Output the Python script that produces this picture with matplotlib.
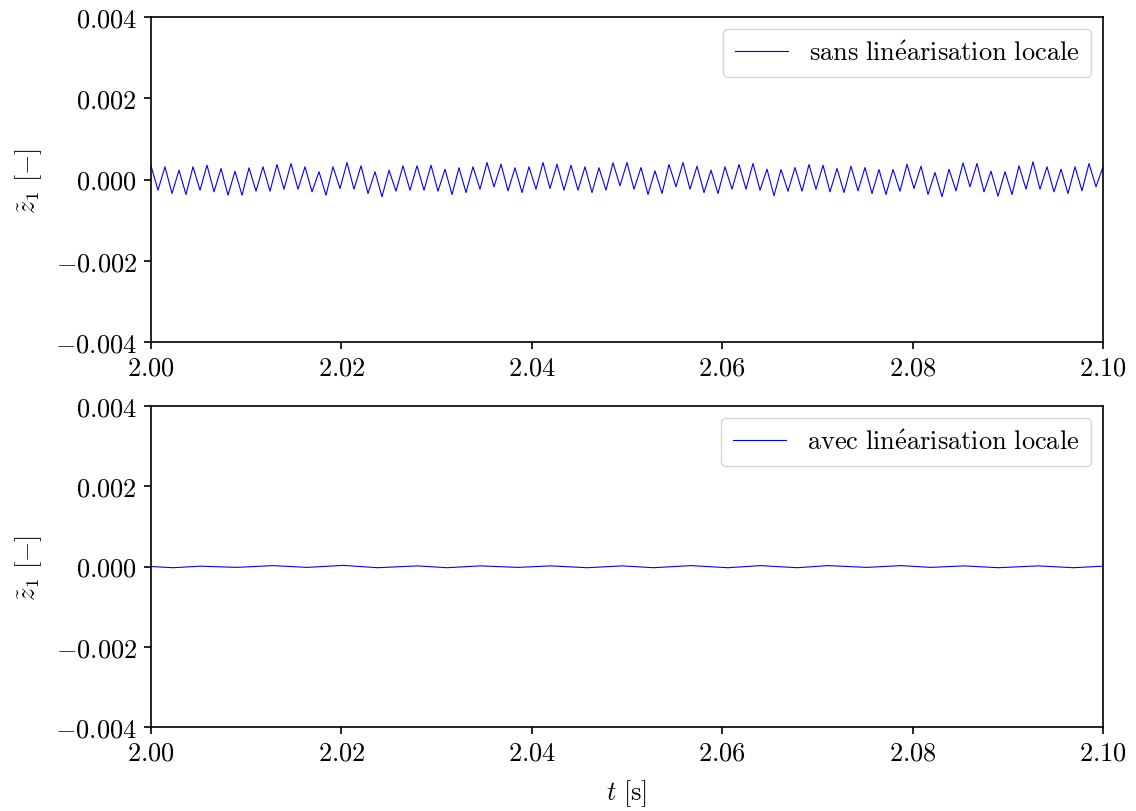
import numpy as np
import matplotlib
matplotlib.use("Agg")
import matplotlib.pyplot as plt
from matplotlib.ticker import FixedLocator, FuncFormatter

plt.rcParams['mathtext.fontset'] = 'cm'
plt.rcParams['font.family'] = ['cmr10', 'DejaVu Serif']
plt.rcParams['axes.formatter.use_mathtext'] = True

# ---- data (values in units of 1e-4) ----
z1_sans_e4 = [
    3.37, -2.63, 3.13, -3.45, 2.29, -3.69, 3.13, -2.63, 3.52, -3.03,
    2.71, -3.86, 2.04, -3.86, 2.88, -2.88, 3.13, -2.88, 3.69, -2.39,
    3.94, -2.39, 3.13, -3.03, 1.90, -3.86, 3.13, -2.22, 4.18, -2.39,
    3.37, -3.45, 1.90, -4.26,
    2.29, -2.88, 3.37, -2.63, 3.37, -2.63, 3.52, -2.88, 2.54, -3.69,
    2.88, -3.20, 3.13, -2.39, 4.18, -1.80, 3.77, -2.78, 2.88, -3.20,
    3.13, -2.39, 4.18, -2.22, 3.77, -2.63, 3.52, -2.63, 3.13, -3.20,
    2.88, -2.63, 4.11, -1.55, 4.18,
    -2.39, 2.95, -3.69, 2.14, -3.45, 3.69, -1.80, 4.18, -2.39, 3.27,
    -3.20, 2.29, -3.45, 3.13, -2.39, 3.69, -2.39, 3.94, -2.63, 2.54,
    -4.01, 2.46, -2.88, 2.95, -2.88, 3.69, -2.39, 3.52, -3.03, 2.71,
    -3.20, 3.27, -2.78, 2.95,
    -3.45, 2.46, -3.69, 2.46, -2.88, 3.77, -2.22, 3.27, -3.69, 1.72,
    -4.26, 2.54, -2.78, 4.11, -1.80, 3.94, -3.03, 2.04, -4.11, 1.90,
    -3.69, 3.37, -2.39, 4.36, -2.39, 3.13, -3.03, 2.54, -3.45, 3.13,
    -2.78, 3.94, -1.80, 3.13,
]

t_avec = [
    2.0000, 2.0023, 2.0052, 2.0090, 2.0128, 2.0164, 2.0202, 2.0238,
    2.0280, 2.0311, 2.0346, 2.0385, 2.0420, 2.0458, 2.0495, 2.0528,
    2.0567, 2.0606, 2.0640, 2.0679, 2.0711, 2.0752, 2.0788, 2.0819,
    2.0854, 2.0890, 2.0932, 2.0969, 2.1000,
]
z1_avec_e4 = [
    0.00, -0.30, 0.08, -0.22, 0.22, -0.22, 0.28, -0.30,
    0.15, -0.30, 0.15, -0.22, 0.15, -0.30, 0.15, -0.30,
    0.22, -0.30, 0.22, -0.30, 0.22, -0.22, 0.22, -0.22,
    0.15, -0.30, 0.15, -0.30, 0.08,
]

t_start, t_end = 2.00, 2.10
x_ticks = [2.00, 2.02, 2.04, 2.06, 2.08, 2.10]
y_ticks = [-0.004, -0.002, 0.000, 0.002, 0.004]
labels = [r'$\mathrm{sans\ lin\acute{e}arisation\ locale}$',
          r'$\mathrm{avec\ lin\acute{e}arisation\ locale}$']

z_sans = np.array(z1_sans_e4) * 1e-4
t_sans = np.linspace(t_start, t_end, len(z_sans))
z_avec = np.array(z1_avec_e4) * 1e-4

fig = plt.figure(figsize=(11.36, 8.12), dpi=100)
W, H = 1136, 812
def ax_rect(l, t, r, b):
    return [l / W, 1 - b / H, (r - l) / W, (b - t) / H]

ax1 = fig.add_axes(ax_rect(151, 18, 1103, 343))
ax2 = fig.add_axes(ax_rect(151, 407, 1103, 728))

fs = 19
def yfmt(v, p):
    if abs(v) < 1e-12:
        return r'$0.000$'
    return r'$%.3f$' % v

for ax, (tt, zz), lab in [(ax1, (t_sans, z_sans), labels[0]),
                          (ax2, (t_avec, z_avec), labels[1])]:
    ax.plot(tt, zz, color='blue', lw=0.8, label=lab)
    ax.set_xlim(t_start, t_end)
    ax.set_ylim(-0.004, 0.004)
    ax.xaxis.set_major_locator(FixedLocator(x_ticks))
    ax.yaxis.set_major_locator(FixedLocator(y_ticks))
    ax.xaxis.set_major_formatter(FuncFormatter(lambda v, p: r'$%.2f$' % v))
    ax.yaxis.set_major_formatter(FuncFormatter(yfmt))
    ax.tick_params(labelsize=fs, width=1.2, length=5, pad=5)
    for s in ax.spines.values():
        s.set_linewidth(1.2)
    ax.set_ylabel(r'$\tilde{z}_1\ [-]$', fontsize=fs, labelpad=8)
    ax.legend(loc='upper right', fontsize=fs, framealpha=0.8,
              edgecolor='0.8', fancybox=True, handlelength=2.0,
              borderpad=0.45, borderaxespad=0.45)

ax2.set_xlabel(r'$t\ [\mathrm{s}]$', fontsize=fs, labelpad=9)

fig.savefig('out.png', dpi=100)
